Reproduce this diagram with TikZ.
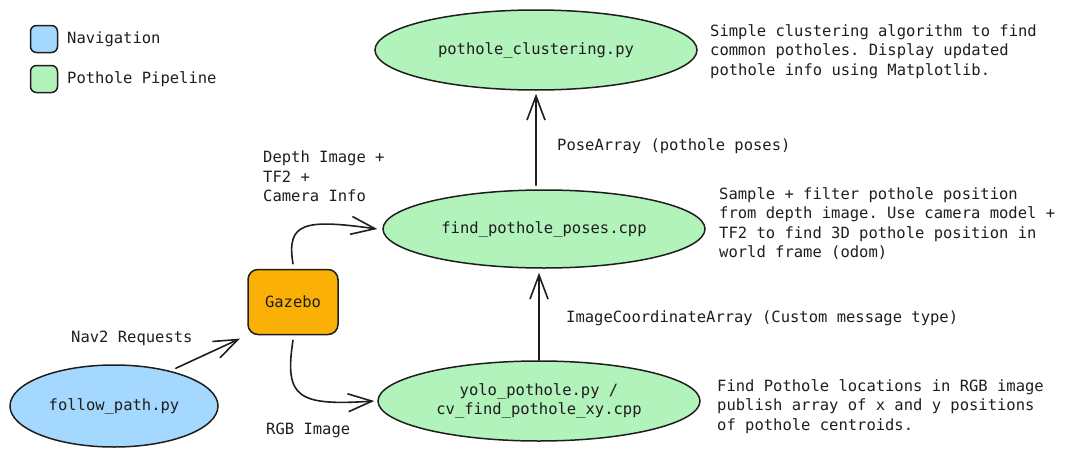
\documentclass[tikz,border=0pt]{standalone}
\usepackage{fontspec}
\setmonofont{DejaVu Sans Mono}
\usepackage{tikz}
\usetikzlibrary{shapes.geometric,arrows.meta}
\usepackage{xcolor}
\definecolor{nav}{HTML}{A5D8FF}
\definecolor{pipe}{HTML}{B2F2BB}
\definecolor{sim}{HTML}{FAB005}
\definecolor{ink}{HTML}{1E1E1E}

\begin{document}
\begin{tikzpicture}[x=1pt, y=-1pt,
		every node/.style={font=\ttfamily\fontsize{15.5}{19.5}\selectfont, text=ink},
		proc/.style={ellipse, draw=ink, line width=1.5pt, fill=pipe,
			minimum width=322pt, minimum height=80pt, inner sep=0pt, align=center},
		navproc/.style={proc, fill=nav, minimum width=208pt, minimum height=82pt},
		key/.style={draw=ink, line width=1.5pt, rounded corners=6pt, minimum size=27pt, inner sep=0pt},
		note/.style={anchor=north west, align=left, inner sep=0pt},
		lbl/.style={anchor=west, inner sep=0pt},
		msg/.style={draw=ink, line width=1.6pt, line cap=round,
			-{Straight Barb[length=24pt,width=18pt,line width=1.6pt]}}
	]
		\useasboundingbox (0,0) rectangle (1065,455);
		% legend
		\node [key, fill=nav] (navkey) at (44,39) {};
		\node [lbl] (navtxt) at (67,39) {Navigation};
		\node [key, fill=pipe] (pipekey) at (44,79) {};
		\node [lbl] (pipetxt) at (67,79) {Pothole Pipeline};
		%
		\node [proc] (clus) at (536,50) {pothole\_clustering.py};
		\node [proc, minimum height=78pt] (poses) at (544,229) {find\_pothole\_poses.cpp};
		\node [proc] (yolo) at (539,401) {yolo\_pothole.py /\\cv\_find\_pothole\_xy.cpp};
		\node [navproc] (follow) at (114,406) {follow\_path.py};
		\node [draw=ink, line width=1.5pt, fill=sim, rounded corners=10pt,
			minimum width=90pt, minimum height=65pt] (gz) at (293,302) {Gazebo};
		%
		\node [note] (clusnote) at (710,24) {Simple clustering algorithm to find\\common potholes. Display updated\\pothole info using Matplotlib.};
		\node [note] (posesnote) at (719,187) {Sample + filter pothole position\\from depth image. Use camera model +\\TF2 to find 3D pothole position in\\world frame (odom)};
		\node [note] (yolonote) at (717,379) {Find Pothole locations in RGB image\\publish array of x and y positions\\of pothole centroids.};
		%
		\node [lbl] (posemsg) at (557,146) {PoseArray (pothole poses)};
		\node [lbl] (coordmsg) at (566,318) {ImageCoordinateArray (Custom message type)};
		\node [note] (depthmsg) at (263,151) {Depth Image +\\TF2 +\\Camera Info};
		\node [lbl] (rgbmsg) at (266,430) {RGB Image};
		\node [lbl] (navmsg) at (71,338) {Nav2 Requests};
		%
		\draw [msg, shorten <=4pt, shorten >=3pt] (poses.north -| clus.south) -- (clus.south);
		\draw [msg, shorten >=4pt] (yolo.north) -- (yolo.north |- poses.south);
		\draw [msg] ([yshift=5pt]gz.north) .. controls (286,222) and (305,219) .. ([xshift=-5pt]poses.west);
		\draw [msg] ([yshift=-5pt]gz.south) .. controls (284,398) and (298,406) .. ([xshift=-3pt]yolo.west);
		\draw [msg, shorten <=6pt, shorten >=8pt] (follow.32) -- (gz.south west);
	\end{tikzpicture}
\end{document}
